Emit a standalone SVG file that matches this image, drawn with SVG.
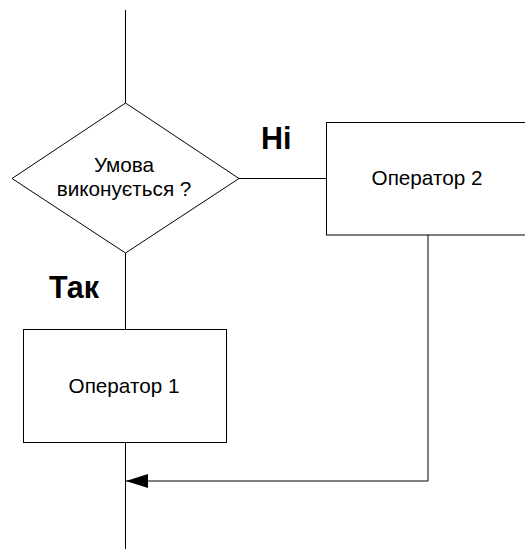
<svg xmlns="http://www.w3.org/2000/svg" width="525" height="550" viewBox="0 0 525 550">
<defs>
<style>
.ln{fill:none;stroke:#000;stroke-width:1}
.box{fill:#fff;stroke:#000;stroke-width:1}
.t{font-family:"Liberation Sans",Arial,sans-serif;font-size:20.7px;fill:#000;text-anchor:middle}
.b{font-family:"Liberation Sans",Arial,sans-serif;font-size:30.5px;font-weight:bold;fill:#000}
</style>
<marker id="arr" viewBox="0 0 22 14" refX="22" refY="7" markerWidth="22" markerHeight="14" markerUnits="userSpaceOnUse" orient="auto">
<path d="M0,0 L22,7 L0,14 Z" fill="#000"/>
</marker>
</defs>
<rect width="525" height="550" fill="#fff"/>
<g id="connectors">
<line class="ln" x1="125.5" y1="10" x2="125.5" y2="103"/>
<line class="ln" x1="125.5" y1="253" x2="125.5" y2="329"/>
<line class="ln" x1="239" y1="178.5" x2="326" y2="178.5"/>
<line class="ln" x1="125.5" y1="443" x2="125.5" y2="549"/>
<polyline class="ln" points="428,235 428,481 126,481" marker-end="url(#arr)"/>
</g>
<g id="decision">
<polygon class="box" points="125.5,103 239,178.5 125.5,253 12,178.5"/>
<text class="t" x="124" y="172">Умова</text>
<text class="t" x="124" y="196">виконується ?</text>
</g>
<g id="op2">
<rect class="box" x="326.5" y="122.5" width="200" height="112.5"/>
<text class="t" x="427" y="185">Оператор 2</text>
</g>
<g id="op1">
<rect class="box" x="23.5" y="329.5" width="203" height="113"/>
<text class="t" x="124" y="393">Оператор 1</text>
</g>
<g id="labels">
<text class="b" x="261" y="149">Ні</text>
<text class="b" x="49" y="298">Так</text>
</g>
</svg>
